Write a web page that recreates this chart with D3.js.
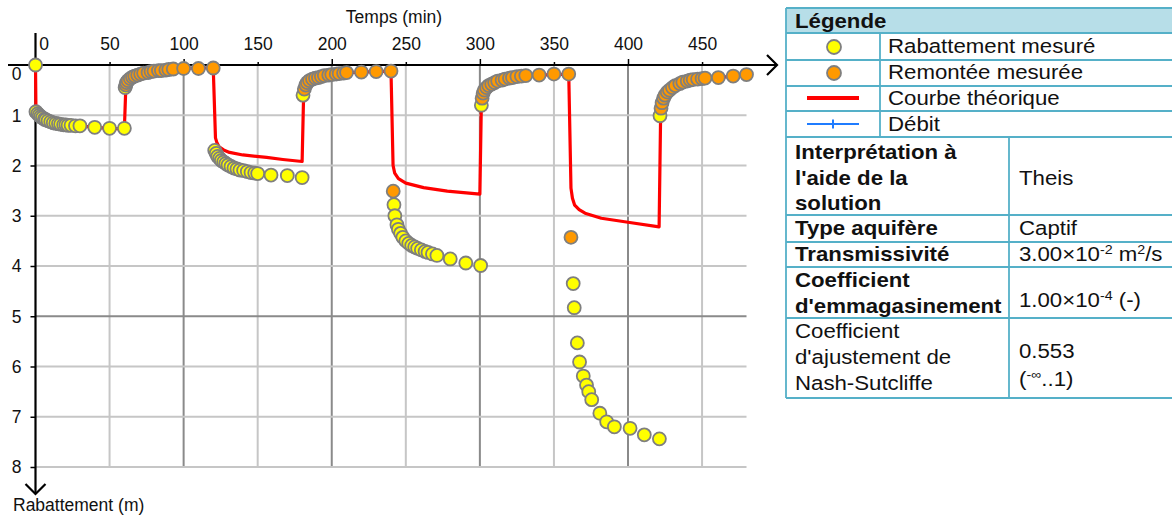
<!DOCTYPE html>
<html><head><meta charset="utf-8">
<script src="https://cdn.jsdelivr.net/npm/d3@7"></script>
<style>body{margin:0;background:#fff}svg{display:block}</style>
</head><body><svg id="c" width="1172" height="518"></svg>
<script>
// ---------- DATA ----------
const xTicks = [0,50,100,150,200,250,300,350,400,450];
const yTicks = [0,1,2,3,4,5,6,7,8];
const xTitle = "Temps (min)";
const yTitle = "Rabattement (m)";

const rabattementMesure = [
 [0,0],[0.3,0.93],[1.5,0.97],[2.5,1.0],[3.5,1.03],[4.7,1.05],[6,1.08],[7,1.09],[8.5,1.11],[10.3,1.13],[12,1.15],[13.7,1.16],[15.5,1.17],[17,1.18],[19,1.19],[20.5,1.19],[22,1.2],[24,1.2],[27,1.21],[30,1.21],[40,1.24],[50,1.26],[60,1.26],
 [60.5,0.45],
 [121,1.7],[122,1.76],[123,1.82],[124.3,1.86],[125.5,1.9],[127,1.93],[128.5,1.96],[130,1.99],[132,2.02],[134,2.05],[136,2.07],[138,2.09],[140.5,2.1],[143,2.12],[145.5,2.14],[148,2.15],[150,2.16],[159,2.19],[170,2.2],[180,2.24],
 [180.6,0.6],
 [242,2.78],[242.6,3.0],[244,3.18],[245,3.27],[246.5,3.35],[248,3.43],[250,3.5],[252,3.55],[254,3.59],[256,3.62],[258,3.65],[260.5,3.68],[263,3.71],[265,3.73],[268,3.76],[271,3.79],[280,3.86],[290.5,3.94],[300.5,3.99],
 [301,0.8],
 [363,4.35],[363.7,4.83],[365.8,5.53],[367.3,5.91],[369.8,6.19],[372,6.37],[373.5,6.5],[375.5,6.66],[381,6.93],[385.6,7.1],[390.8,7.2],[401.4,7.23],[411,7.36],[421.2,7.44],
 [421.6,1.01]
];

const remonteeMesuree = [
 [61,0.40],[61.5,0.35],[62.5,0.31],[64,0.27],[65.5,0.24],[67,0.22],[69,0.2],[71,0.18],[73,0.16],[76,0.15],[78,0.13],[80,0.12],[83,0.11],[85,0.11],[88,0.1],[90,0.09],[93,0.08],[100,0.07],[110,0.07],[120,0.06],
 [181.5,0.48],[182.5,0.4],[183.5,0.35],[185,0.31],[187,0.28],[189,0.26],[191,0.25],[193,0.23],[195,0.21],[198,0.2],[200,0.19],[203,0.18],[205,0.17],[208,0.16],[210,0.15],[220,0.14],[230,0.13],[240,0.12],
 [241.5,2.51],
 [301.5,0.66],[302.2,0.56],[303,0.5],[304.5,0.45],[306,0.41],[308,0.38],[310,0.35],[312,0.32],[315,0.3],[317,0.28],[320,0.26],[322,0.25],[325,0.23],[328,0.22],[331,0.21],[340,0.2],[350,0.18],[360,0.18],
 [361.5,3.43],
 [422.3,0.86],[423,0.75],[424,0.66],[425,0.6],[426.5,0.54],[428,0.5],[430,0.45],[432,0.41],[435,0.37],[437,0.34],[440,0.32],[442,0.3],[444,0.29],[447,0.28],[450,0.27],[452,0.26],[461,0.25],[471,0.22],[480,0.19]
];

const courbeTheorique = [
 [0,0],[0.3,0.9],[1,0.93],[2,0.98],[3,1.02],[5,1.06],[8,1.11],[12,1.15],[18,1.18],[24,1.2],[30,1.21],[40,1.24],[50,1.26],[60,1.27],
 [61,0.42],[62,0.33],[64,0.27],[67,0.22],[71,0.17],[76,0.14],[80,0.12],[85,0.1],[90,0.09],[100,0.07],[110,0.06],[120,0.06],
 [121.5,1.45],[122.5,1.55],[124,1.63],[127,1.69],[131,1.74],[140,1.79],[156,1.84],[167,1.88],[180,1.92],
 [181,0.6],[182,0.46],[183,0.38],[186,0.3],[191,0.25],[195,0.21],[200,0.19],[205,0.17],[210,0.15],[220,0.14],[230,0.13],[240,0.12],
 [241.4,2.0],[242.5,2.15],[245,2.26],[250,2.35],[262,2.44],[278,2.51],[300,2.57],
 [301,0.76],[302,0.58],[304.5,0.46],[308,0.38],[312,0.32],[317,0.28],[321,0.25],[326,0.23],[331,0.21],[340,0.2],[350,0.19],[360,0.18],
 [361.5,2.45],[362.5,2.65],[364,2.79],[367,2.88],[371,2.95],[382,3.05],[400,3.13],[421,3.22],
 [422,1.05],[423,0.75],[425,0.6],[428,0.5],[431,0.42],[435,0.36],[440,0.32],[444,0.29],[449,0.28],[452,0.27],[461,0.25],[471,0.22],[480,0.19]
];

const legendTitle = "Légende";
const legendLabels = ["Rabattement mesuré","Remontée mesurée","Courbe théorique","Débit"];
const paramLabels = [
 ["Interprétation à","l'aide de la","solution"],
 ["Type aquifère"],
 ["Transmissivité"],
 ["Coefficient","d'emmagasinement"],
 ["Coefficient","d'ajustement de","Nash-Sutcliffe"]
];
const paramBold = [true,true,true,true,false];
const paramValues = [
 [[["Theis"]]],
 [[["Captif"]]],
 [[["3.00×10"],["-2","sup"],[" m"],["2","sup"],["/s"]]],
 [[["1.00×10"],["-4","sup"],[" (-)"]]],
 [[["0.553"]],[["("],["-∞","sup"],["..1)"]]]
];

// ---------- DRAW ----------
const FONT = "'Liberation Sans', Arial, sans-serif";
const svg = d3.select("#c");
svg.append("rect").attr("width",1172).attr("height",518).attr("fill","#fff");

const x = d3.scaleLinear().domain([0,480]).range([35.5,746.5]);
const y = d3.scaleLinear().domain([0,8]).range([65,467]);

const grid = svg.append("g");
grid.selectAll("line.v").data(xTicks.filter(d=>d>0)).join("line")
  .attr("x1",d=>x(d)).attr("x2",d=>x(d)).attr("y1",y(0)).attr("y2",y(8))
  .attr("stroke",d=>d%100===0?"#8a8a8a":"#c6c6c6").attr("stroke-width",2);
grid.selectAll("line.h").data(yTicks.filter(d=>d>0)).join("line")
  .attr("x1",x(0)).attr("x2",x(480)).attr("y1",d=>y(d)).attr("y2",d=>y(d))
  .attr("stroke",d=>d===5?"#8a8a8a":"#c6c6c6").attr("stroke-width",2);

// axes
const gx = svg.append("g").attr("transform",`translate(0,${y(0)})`)
  .call(d3.axisTop(x).tickValues(xTicks).tickSize(5).tickSizeOuter(0).tickPadding(10));
gx.select(".domain").remove();
gx.selectAll(".tick line").attr("stroke","#000").attr("stroke-width",1.5)
  .attr("y2",d=>d%100===0?-6:-3);
gx.selectAll(".tick text").attr("font-family",FONT).attr("font-size","17.5px").attr("fill","#111")
  .attr("dx",d=>d===0?8:0);

const gy = svg.append("g").attr("transform",`translate(${x(0)},0)`)
  .call(d3.axisLeft(y).tickValues(yTicks).tickSize(5).tickSizeOuter(0).tickPadding(9));
gy.select(".domain").remove();
gy.selectAll(".tick line").attr("stroke","#000").attr("stroke-width",1.5);
gy.selectAll(".tick text").attr("font-family",FONT).attr("font-size","17.5px").attr("fill","#111")
  .attr("dy",d=>d===0?"0.8em":"0.34em");

const ax = svg.append("g").attr("fill","none").attr("stroke","#000").attr("stroke-width",2.2);
ax.append("path").attr("d",`M8,${y(0)}H777`);
ax.append("path").attr("d",`M767,${y(0)-10}L777,${y(0)}L767,${y(0)+10}`);
ax.append("path").attr("d",`M${x(0)},33V494`);
ax.append("path").attr("d",`M${x(0)-10},484L${x(0)},494L${x(0)+10},484`);

svg.append("text").attr("x",394).attr("y",23).attr("text-anchor","middle")
  .attr("font-family",FONT).attr("font-size","17.5px").attr("fill","#111").text(xTitle);
svg.append("text").attr("x",13).attr("y",511)
  .attr("font-family",FONT).attr("font-size","17.5px").attr("fill","#111").text(yTitle);

// theoretical curve
const line = d3.line().x(d=>x(d[0])).y(d=>y(d[1]));
svg.append("path").datum(courbeTheorique).attr("d",line)
  .attr("fill","none").attr("stroke","#ff0000").attr("stroke-width",3.2).attr("stroke-linejoin","round");

// points
svg.append("g").selectAll("circle").data(rabattementMesure).join("circle")
  .attr("cx",d=>x(d[0])).attr("cy",d=>y(d[1])).attr("r",6.5)
  .attr("fill","#ffff00").attr("stroke","#7f7f7f").attr("stroke-width",1.8);
svg.append("g").selectAll("circle").data(remonteeMesuree).join("circle")
  .attr("cx",d=>x(d[0])).attr("cy",d=>y(d[1])).attr("r",6.5)
  .attr("fill","#ff9900").attr("stroke","#7f7f7f").attr("stroke-width",1.8);

// ---------- TABLE ----------
const T = svg.append("g");
const TL = 786, TR = 1172, BC = "#55b0c8";
const SX = 1.14, TFS = 19.5;
function ttext(xp, yp, segs, bold){
  const t = T.append("text").attr("transform",`translate(${xp},${yp}) scale(${SX},1)`)
    .attr("font-family",FONT).attr("font-size",TFS+"px").attr("fill","#111")
    .attr("font-weight",bold?"bold":"normal");
  let raised = false;
  segs.forEach(s=>{
    const sp = t.append("tspan").text(s[0]);
    if(s[1]==="sup"){ sp.attr("font-size","12.5px"); if(!raised){sp.attr("dy",-7); raised=true;} }
    else if(raised){ sp.attr("dy",7); raised=false; }
  });
}
T.append("rect").attr("x",TL).attr("y",8).attr("width",TR-TL).attr("height",25).attr("fill","#b7dee8");
const hLines = [8,33,60,86,111,137,215,242,267,318,398];
T.selectAll("line.h").data(hLines).join("line")
  .attr("x1",TL).attr("x2",TR).attr("y1",d=>d).attr("y2",d=>d)
  .attr("stroke",BC).attr("stroke-width",1.8);
T.append("line").attr("x1",TL).attr("x2",TL).attr("y1",8).attr("y2",398).attr("stroke",BC).attr("stroke-width",1.8);
T.append("line").attr("x1",880).attr("x2",880).attr("y1",33).attr("y2",137).attr("stroke",BC).attr("stroke-width",1.8);
T.append("line").attr("x1",1009).attr("x2",1009).attr("y1",137).attr("y2",398).attr("stroke",BC).attr("stroke-width",1.8);

ttext(795,28,[[legendTitle]],true);
const legBase = [53,79,105,131];
legendLabels.forEach((l,i)=>ttext(888,legBase[i],[[l]],false));
T.append("circle").attr("cx",834).attr("cy",47).attr("r",7).attr("fill","#ffff00").attr("stroke","#7f7f7f").attr("stroke-width",1.8);
T.append("circle").attr("cx",834).attr("cy",73).attr("r",7).attr("fill","#ff9900").attr("stroke","#7f7f7f").attr("stroke-width",1.8);
T.append("line").attr("x1",807).attr("x2",859).attr("y1",98).attr("y2",98).attr("stroke","#ff0000").attr("stroke-width",4);
T.append("line").attr("x1",807).attr("x2",859).attr("y1",124).attr("y2",124).attr("stroke","#1f7cff").attr("stroke-width",2);
T.append("line").attr("x1",833).attr("x2",833).attr("y1",119.5).attr("y2",128.5).attr("stroke","#1f7cff").attr("stroke-width",2);

const labelBase = [[159,185,210],[235],[261],[287,313],[338,364,390]];
const valueBase = [[185],[235],[261],[307],[358,386]];
paramLabels.forEach((lines,i)=>{
  lines.forEach((l,j)=>ttext(795,labelBase[i][j],[[l]],paramBold[i]));
  paramValues[i].forEach((segs,j)=>ttext(1019,valueBase[i][j],segs,false));
});
</script></body></html>
